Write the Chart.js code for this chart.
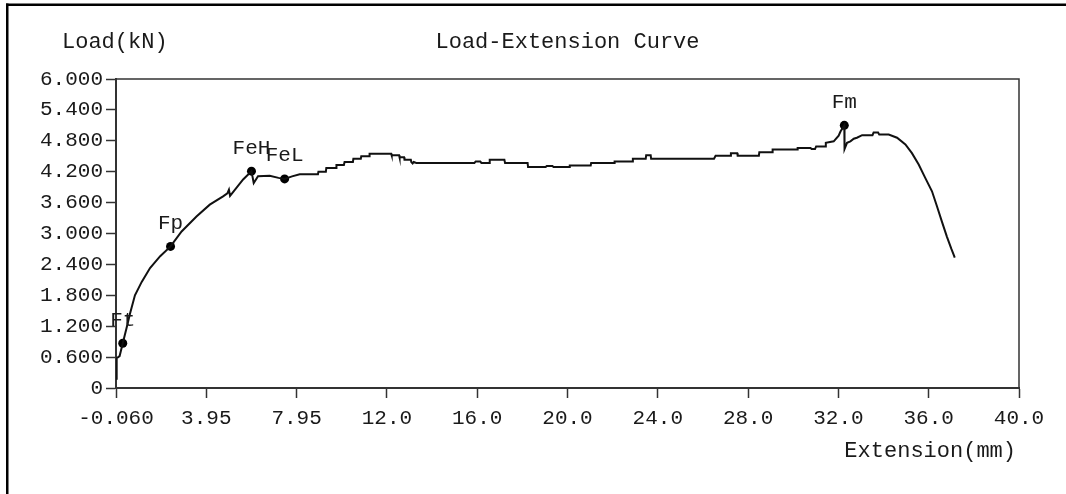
<!DOCTYPE html>
<html>
<head>
<meta charset="utf-8">
<title>Load-Extension Curve</title>
<script src="https://cdn.jsdelivr.net/npm/chart.js@4.4.1/dist/chart.umd.min.js"></script>
<style>
  html, body { margin: 0; padding: 0; background: #fff; }
  #wrap { position: relative; width: 1066px; height: 494px; }
  canvas { display: block; }
</style>
</head>
<body>
<div id="wrap"><canvas id="c" width="1066" height="494"></canvas></div>
<script>
// Tensile test record: extension (mm) against load (kN)
const extension = [
  -0.03, -0.03, 0.10, 0.24, 0.40, 0.56, 0.78, 1.08, 1.45, 1.90,
  2.36, 2.85, 3.51, 4.10, 4.69, 4.88, 4.95, 5.00, 5.58, 5.95,
  6.05, 6.24, 6.76, 7.15, 7.42, 7.75, 8.09, 8.90, 8.92, 9.25,
  9.27, 9.70, 9.72, 10.05, 10.08, 10.45, 10.47, 10.80, 10.82, 11.17,
  11.19, 12.15, 12.17, 12.50, 12.52, 12.72, 12.74, 13.02, 13.04, 13.10,
  13.15, 13.26, 15.84, 15.90, 16.10, 16.15, 16.50, 16.52, 17.17, 17.20,
  18.20, 18.22, 19.00, 19.05, 19.30, 19.35, 20.05, 20.07, 21.00, 21.02,
  22.04, 22.06, 22.85, 22.87, 23.44, 23.46, 23.66, 23.68, 26.47, 26.54,
  27.20, 27.22, 27.50, 27.52, 28.46, 28.48, 29.05, 29.07, 30.16, 30.18,
  30.75, 30.80, 30.95, 31.00, 31.41, 31.43, 31.78, 32.00, 32.08, 32.25,
  32.26, 32.37, 32.52, 32.67, 32.81, 33.04, 33.50, 33.55, 33.75, 33.80,
  34.22, 34.59, 34.96, 35.25, 35.55, 35.84, 36.14, 36.36, 36.58, 36.80,
  37.00, 37.10, 37.15
];
const load = [
  0.16, 0.58, 0.62, 0.87, 1.15, 1.44, 1.80, 2.06, 2.33, 2.56,
  2.75, 3.04, 3.33, 3.56, 3.72, 3.78, 3.85, 3.73, 4.05, 4.21,
  3.98, 4.11, 4.12, 4.08, 4.06, 4.11, 4.15, 4.15, 4.20, 4.20,
  4.27, 4.27, 4.33, 4.33, 4.39, 4.39, 4.45, 4.45, 4.50, 4.50,
  4.55, 4.55, 4.52, 4.52, 4.48, 4.48, 4.43, 4.43, 4.39, 4.36,
  4.39, 4.37, 4.37, 4.40, 4.40, 4.37, 4.37, 4.43, 4.43, 4.37,
  4.37, 4.29, 4.29, 4.31, 4.31, 4.29, 4.29, 4.32, 4.32, 4.37,
  4.37, 4.40, 4.40, 4.45, 4.45, 4.52, 4.52, 4.45, 4.45, 4.51,
  4.51, 4.56, 4.56, 4.51, 4.51, 4.58, 4.58, 4.63, 4.63, 4.66,
  4.66, 4.64, 4.64, 4.69, 4.69, 4.76, 4.79, 4.90, 4.98, 5.10,
  4.64, 4.76, 4.79, 4.84, 4.86, 4.91, 4.91, 4.96, 4.96, 4.92,
  4.92, 4.86, 4.73, 4.56, 4.34, 4.08, 3.82, 3.53, 3.23, 2.94,
  2.70, 2.59, 2.53
];

// Characteristic points of the test
const markerNames = ['Ft', 'Fp', 'FeH', 'FeL', 'Fm'];
const markerExt   = [0.24, 2.36, 5.95, 7.42, 32.25];
const markerLoad  = [0.87, 2.75, 4.21, 4.06, 5.10];

// Axis ticks
const xTickValues = [-0.06, 3.946, 7.952, 11.958, 15.964, 19.97, 23.976, 27.982, 31.988, 35.994, 40.0];
const xTickLabels = ['-0.060', '3.95', '7.95', '12.0', '16.0', '20.0', '24.0', '28.0', '32.0', '36.0', '40.0'];
const yTickValues = [0, 0.6, 1.2, 1.8, 2.4, 3.0, 3.6, 4.2, 4.8, 5.4, 6.0];
const yTickLabels = ['0', '0.600', '1.200', '1.800', '2.400', '3.000', '3.600', '4.200', '4.800', '5.400', '6.000'];

const FONT = "'Liberation Mono', 'DejaVu Sans Mono', monospace";
const INK = '#1a1a1a';

const curvePoints = extension.map((x, i) => ({ x: x, y: load[i] }));
const markerPoints = markerExt.map((x, i) => ({ x: x, y: markerLoad[i] }));

const decorations = {
  id: 'decorations',
  beforeDatasetsDraw(chart) {
    const { ctx, chartArea: a } = chart;
    ctx.save();
    ctx.strokeStyle = '#333';
    ctx.lineWidth = 1.5;
    ctx.beginPath();
    ctx.moveTo(a.left, a.top);
    ctx.lineTo(a.right, a.top);
    ctx.lineTo(a.right, a.bottom);
    ctx.stroke();
    ctx.restore();
  },
  afterDraw(chart) {
    const { ctx, chartArea: a, scales } = chart;
    ctx.save();
    // outer frame
    ctx.fillStyle = '#000';
    ctx.fillRect(6, 3.5, 1060, 2.5);
    ctx.fillRect(6, 3.5, 2.5, 490.5);

    ctx.fillStyle = INK;
    ctx.font = '22px ' + FONT;
    ctx.textBaseline = 'middle';
    ctx.textAlign = 'left';
    ctx.fillText('Load(kN)', 62, 42);
    ctx.textAlign = 'center';
    ctx.fillText('Load-Extension Curve', (a.left + a.right) / 2, 42);
    ctx.textAlign = 'right';
    ctx.fillText('Extension(mm)', 1016, 451);

    // names of the characteristic points
    ctx.font = '21px ' + FONT;
    ctx.textAlign = 'center';
    markerNames.forEach((name, i) => {
      const px = scales.x.getPixelForValue(markerExt[i]);
      const py = scales.y.getPixelForValue(markerLoad[i]);
      ctx.fillText(name, px, py - 23);
    });
    ctx.restore();
  }
};

new Chart(document.getElementById('c'), {
  type: 'scatter',
  data: {
    datasets: [
      {
        data: curvePoints,
        showLine: true,
        borderColor: '#111',
        borderWidth: 2,
        pointRadius: 0,
        tension: 0
      },
      {
        data: markerPoints,
        showLine: false,
        pointRadius: 4.5,
        pointBackgroundColor: '#000',
        pointBorderColor: '#000',
        pointBorderWidth: 0
      }
    ]
  },
  options: {
    responsive: false,
    animation: false,
    devicePixelRatio: 1,
    layout: { padding: { top: 79, right: 47, left: 0, bottom: 0 } },
    plugins: {
      legend: { display: false },
      tooltip: { enabled: false },
      title: { display: false }
    },
    scales: {
      x: {
        type: 'linear',
        min: -0.06,
        max: 40,
        afterBuildTicks(scale) { scale.ticks = xTickValues.map(v => ({ value: v })); },
        afterFit(scale) { scale.height = 106; },
        grid: { drawOnChartArea: false, drawTicks: true, tickLength: 10, tickColor: '#333', tickWidth: 1.5 },
        border: { display: true, color: '#333', width: 2 },
        ticks: {
          autoSkip: false,
          maxRotation: 0,
          padding: 8,
          color: INK,
          font: { family: FONT, size: 21 },
          callback: (v, i) => xTickLabels[i]
        }
      },
      y: {
        type: 'linear',
        min: 0,
        max: 6,
        afterBuildTicks(scale) { scale.ticks = yTickValues.map(v => ({ value: v })); },
        afterFit(scale) { scale.width = 116; },
        grid: { drawOnChartArea: false, drawTicks: true, tickLength: 10, tickColor: '#333', tickWidth: 1.5 },
        border: { display: true, color: '#333', width: 2 },
        ticks: {
          autoSkip: false,
          padding: 3,
          color: INK,
          font: { family: FONT, size: 21 },
          callback: (v, i) => yTickLabels[i]
        }
      }
    }
  },
  plugins: [decorations]
});
</script>
</body>
</html>
